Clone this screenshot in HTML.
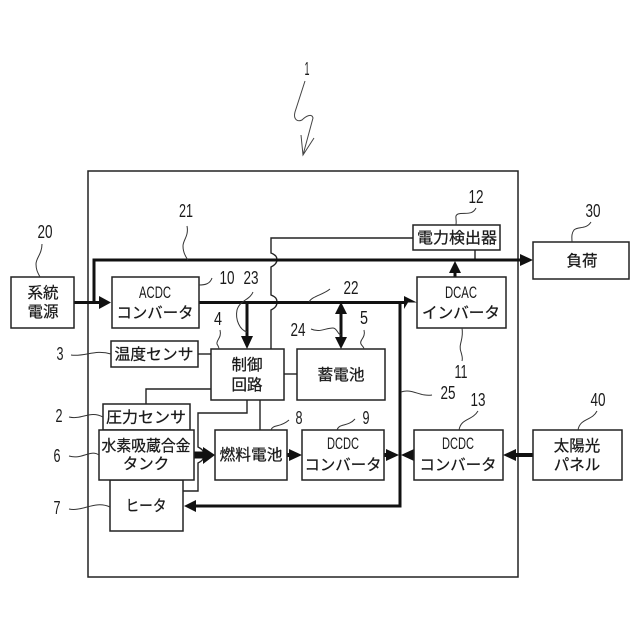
<!DOCTYPE html>
<html>
<head>
<meta charset="utf-8">
<style>
html,body{margin:0;padding:0;background:#fff;width:640px;height:640px;overflow:hidden}
svg{display:block}
text{font-family:"Liberation Sans","Noto Sans CJK JP",sans-serif;fill:#1a1a1a;text-anchor:middle}
.j{font-size:15.5px;stroke:#1a1a1a;stroke-width:.25}
.n{font-size:18px}
.d{font-size:17px}
.box{fill:#fff;stroke:#222;stroke-width:1.5}
.t{fill:none;stroke:#222;stroke-width:1.4}
.k{fill:none;stroke:#111;stroke-width:3}
.l{fill:none;stroke:#333;stroke-width:1}
.a{fill:#111;stroke:none}
</style>
</head>
<body>
<svg width="640" height="640" viewBox="0 0 640 640" xmlns="http://www.w3.org/2000/svg">
<rect x="0" y="0" width="640" height="640" fill="#fff"/>
<rect x="88" y="171" width="430" height="406" fill="none" stroke="#222" stroke-width="1.5"/>

<!-- thin lines -->
<path class="t" d="M413 238H271V253C276 255 277 257 277 260C277 263 275 265 271 267V295C276 297 277 299 277 302C277 306 275 308 271 310V349"/>
<path class="t" d="M475 250V260"/>
<path class="t" d="M284 374H297"/>
<path class="t" d="M198 354H211"/>
<path class="t" d="M211 389H146V404"/>
<path class="t" d="M247 400V413H198V447C202 449 204 451 204 455C204 459 202 461 198 463V491H183"/>
<path class="t" d="M260 400V430"/>

<!-- thick lines -->
<path class="k" d="M94 302V260H522"/>
<path class="k" d="M74 302.5H100"/>
<path class="k" d="M199 302.5H405"/>
<path class="k" d="M247 302.5V338"/>
<path class="k" d="M341 312V339"/>
<path class="k" d="M400 302.5V506H196"/>
<path class="k" d="M455 277V270"/>
<path class="k" style="stroke-width:7" d="M194 455H206"/>
<path class="k" style="stroke-width:4" d="M287 455H292"/>
<path class="k" style="stroke-width:4" d="M384 455H390"/>
<path class="k" style="stroke-width:4" d="M533 455H515"/>

<!-- arrowheads -->
<path class="a" d="M111 302.5L99 296V309Z"/>
<path class="a" d="M417 302.5L404 296V309L408 302.5Z"/>
<path class="a" d="M533 260L520 254V266Z"/>
<path class="a" d="M455 261L449 273H461Z"/>
<path class="a" d="M247 349L241 336H253Z"/>
<path class="a" d="M341 302L335 314H347Z"/>
<path class="a" d="M341 349L335 337H347Z"/>
<path class="a" d="M215 455L203 447V464Z"/>
<path class="a" d="M302 455L289 449V461Z"/>
<path class="a" d="M399 455L386 449V461Z"/>
<path class="a" d="M401 455L414 449V461Z"/>
<path class="a" d="M503 455L516 449V461Z"/>
<path class="a" d="M184 506L196 500V512Z"/>

<!-- boxes -->
<rect class="box" x="11" y="277" width="63" height="51"/>
<rect class="box" x="112" y="277" width="87" height="51"/>
<rect class="box" x="111" y="341" width="87" height="26"/>
<rect class="box" x="211" y="349" width="73" height="51"/>
<rect class="box" x="297" y="349" width="88" height="51"/>
<rect class="box" x="413" y="225" width="87" height="25"/>
<rect class="box" x="533" y="242" width="96" height="37"/>
<rect class="box" x="417" y="277" width="89" height="51"/>
<rect class="box" x="103" y="404" width="87" height="26"/>
<rect class="box" x="110" y="480" width="73" height="51"/>
<rect class="box" x="99" y="430" width="95" height="50"/>
<rect class="box" x="215" y="430" width="72" height="50"/>
<rect class="box" x="302" y="430" width="82" height="50"/>
<rect class="box" x="414" y="430" width="89" height="50"/>
<rect class="box" x="533" y="430" width="89" height="50"/>

<!-- box labels -->
<text class="j" x="43" y="298">系統</text>
<text class="j" x="43" y="317">電源</text>
<text class="d" x="155" y="298" textLength="32" lengthAdjust="spacingAndGlyphs">ACDC</text>
<text class="j" x="155" y="318" textLength="77" lengthAdjust="spacingAndGlyphs">コンバータ</text>
<text class="j" x="154" y="359.5" textLength="79" lengthAdjust="spacingAndGlyphs">温度センサ</text>
<text class="j" x="247" y="370">制御</text>
<text class="j" x="247" y="390">回路</text>
<text class="j" x="341" y="380" textLength="47" lengthAdjust="spacingAndGlyphs">蓄電池</text>
<text class="j" x="457" y="243" textLength="80" lengthAdjust="spacingAndGlyphs">電力検出器</text>
<text class="j" x="582" y="266">負荷</text>
<text class="d" x="461" y="298" textLength="32" lengthAdjust="spacingAndGlyphs">DCAC</text>
<text class="j" x="461" y="318" textLength="78" lengthAdjust="spacingAndGlyphs">インバータ</text>
<text class="j" x="146" y="422.5" textLength="80" lengthAdjust="spacingAndGlyphs">圧力センサ</text>
<text class="j" x="146" y="451" textLength="89" lengthAdjust="spacingAndGlyphs">水素吸蔵合金</text>
<text class="j" x="146" y="469">タンク</text>
<text class="j" x="146" y="511" textLength="41" lengthAdjust="spacingAndGlyphs">ヒータ</text>
<text class="j" x="251" y="460" textLength="63" lengthAdjust="spacingAndGlyphs">燃料電池</text>
<text class="d" x="343" y="449" textLength="32" lengthAdjust="spacingAndGlyphs">DCDC</text>
<text class="j" x="343" y="470" textLength="77" lengthAdjust="spacingAndGlyphs">コンバータ</text>
<text class="d" x="458" y="449" textLength="32" lengthAdjust="spacingAndGlyphs">DCDC</text>
<text class="j" x="458" y="470" textLength="77" lengthAdjust="spacingAndGlyphs">コンバータ</text>
<text class="j" x="577" y="451">太陽光</text>
<text class="j" x="577" y="470">パネル</text>

<!-- number labels -->
<text class="n" x="307" y="75" textLength="5" lengthAdjust="spacingAndGlyphs">1</text>
<text class="n" x="45" y="238" textLength="15" lengthAdjust="spacingAndGlyphs">20</text>
<text class="n" x="186" y="217" textLength="14" lengthAdjust="spacingAndGlyphs">21</text>
<text class="n" x="476" y="203" textLength="15" lengthAdjust="spacingAndGlyphs">12</text>
<text class="n" x="593" y="217" textLength="15" lengthAdjust="spacingAndGlyphs">30</text>
<text class="n" x="227" y="284" textLength="15" lengthAdjust="spacingAndGlyphs">10</text>
<text class="n" x="251" y="284" textLength="15" lengthAdjust="spacingAndGlyphs">23</text>
<text class="n" x="351" y="294" textLength="15" lengthAdjust="spacingAndGlyphs">22</text>
<text class="n" x="298" y="336" textLength="15" lengthAdjust="spacingAndGlyphs">24</text>
<text class="n" x="364" y="324" textLength="8" lengthAdjust="spacingAndGlyphs">5</text>
<text class="n" x="218" y="325" textLength="8" lengthAdjust="spacingAndGlyphs">4</text>
<text class="n" x="461" y="378" textLength="13" lengthAdjust="spacingAndGlyphs">11</text>
<text class="n" x="60" y="360" textLength="7" lengthAdjust="spacingAndGlyphs">3</text>
<text class="n" x="59" y="422" textLength="7" lengthAdjust="spacingAndGlyphs">2</text>
<text class="n" x="57" y="462" textLength="7" lengthAdjust="spacingAndGlyphs">6</text>
<text class="n" x="57" y="514" textLength="7" lengthAdjust="spacingAndGlyphs">7</text>
<text class="n" x="299" y="424" textLength="7" lengthAdjust="spacingAndGlyphs">8</text>
<text class="n" x="366" y="424" textLength="7" lengthAdjust="spacingAndGlyphs">9</text>
<text class="n" x="448" y="399" textLength="15" lengthAdjust="spacingAndGlyphs">25</text>
<text class="n" x="478" y="406" textLength="15" lengthAdjust="spacingAndGlyphs">13</text>
<text class="n" x="598" y="406" textLength="15" lengthAdjust="spacingAndGlyphs">40</text>

<!-- leaders -->
<path class="l" d="M42 244C42 254 36 258 36 264C36 270 38 273 40 277"/>
<path class="l" d="M187 226C189 236 183 240 183 246C183 252 185 256 188 260"/>
<path class="l" d="M476 208C472 216 464 212 458 214C454 216 457 218 456 225"/>
<path class="l" d="M591 222C586 230 578 226 574 230C571 234 572 238 572 242"/>
<path class="l" d="M199 285C205 285 210 284 212 278"/>
<path class="l" d="M253 292C250 300 240 300 237 310C235 320 240 330 247 332"/>
<path class="l" d="M309 302C312 296 323 295 330 289"/>
<path class="l" d="M311 329C320 333 325 328 333 328C337 328 338 335 341 335"/>
<path class="l" d="M364 330C366 338 359 340 361 344C362 346 364 347 364 349"/>
<path class="l" d="M220 330C222 338 216 340 217 344C218 346 219 347 219 349"/>
<path class="l" d="M462 328C464 340 458 344 461 352C462 356 463 358 462 361"/>
<path class="l" d="M71 355C85 357 95 349 111 354"/>
<path class="l" d="M69 417C82 420 90 410 103 417"/>
<path class="l" d="M69 456C82 460 90 449 99 455"/>
<path class="l" d="M69 509C82 512 95 500 110 507"/>
<path class="l" d="M271 430C273 424 280 428 289 420"/>
<path class="l" d="M337 430C339 423 348 427 355 419"/>
<path class="l" d="M401 392C412 388 420 397 432 395"/>
<path class="l" d="M459 430C461 418 472 421 478 411"/>
<path class="l" d="M578 430C580 418 592 421 597 411"/>
<path fill="none" stroke="#444" stroke-width="1" d="M305 81L295 112C293 120 298 122 302 120C306 116 312 113 313 118L303 155M301 135L303 155L314 138"/>
</svg>
</body>
</html>
